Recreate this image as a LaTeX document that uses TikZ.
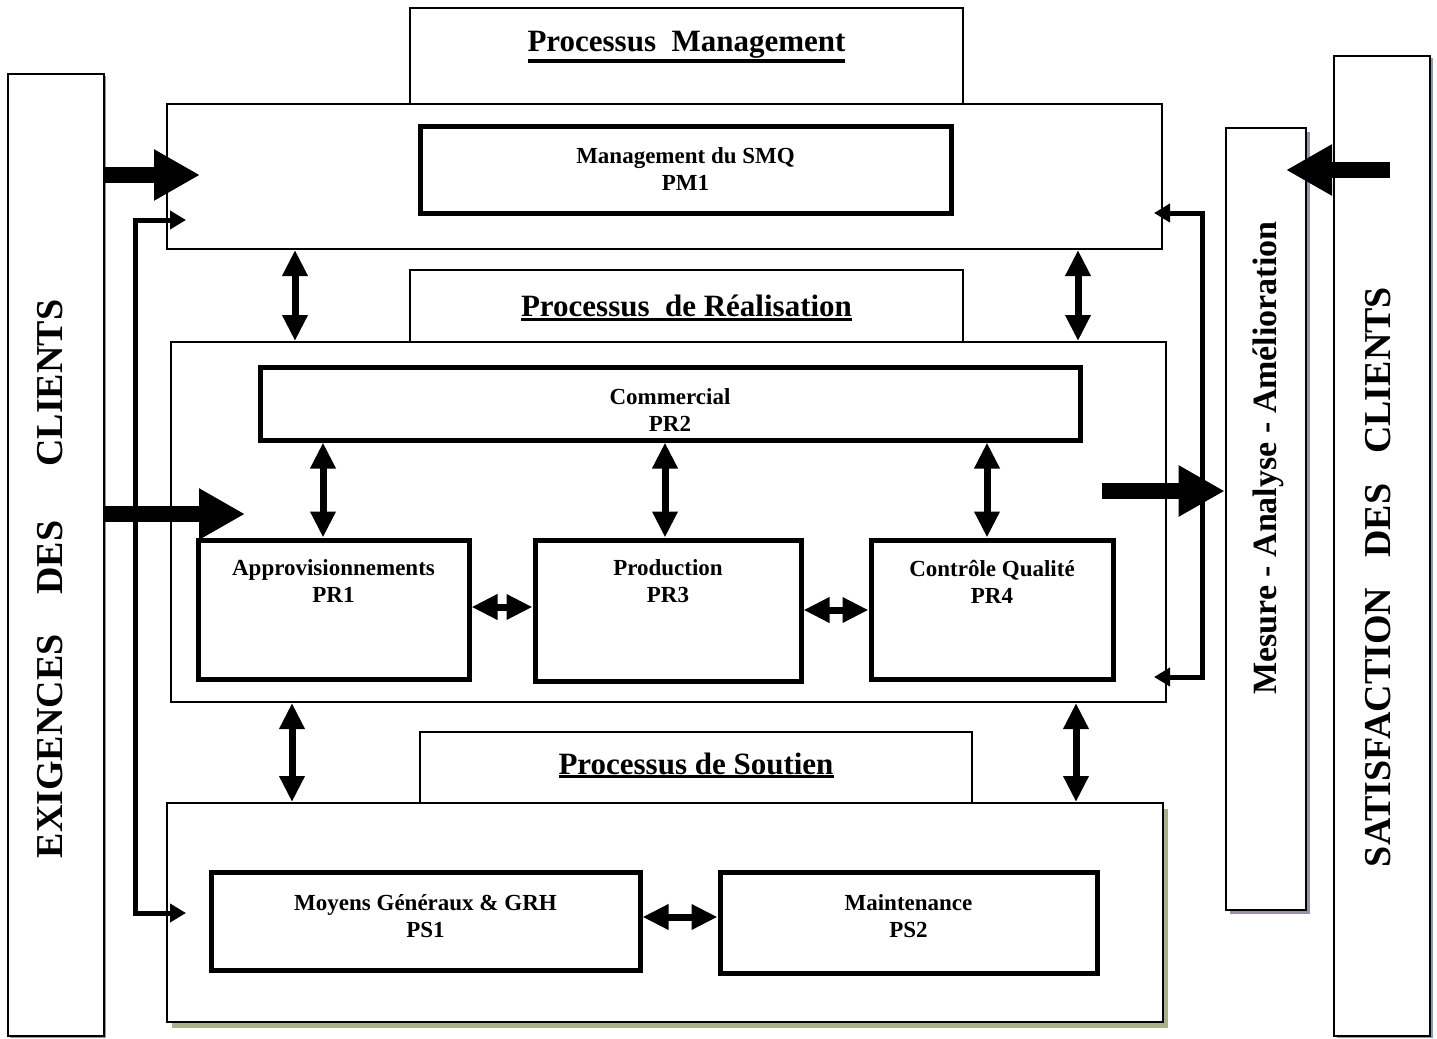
\documentclass[tikz,border=0pt]{standalone}
\usepackage{fontspec}
\setmainfont{Liberation Serif}
\usetikzlibrary{arrows.meta,shadows}
\definecolor{olivegray}{HTML}{A8B08E}
\definecolor{mauvegray}{HTML}{9A8FA3}
\definecolor{bluegray}{HTML}{8A9BB5}
\newcommand{\heavyul}[1]{\leavevmode\setbox0=\hbox{#1}\rlap{\copy0}%
  \raisebox{-\dp0}{\rule[-2pt]{\wd0}{1.6pt}}}

\begin{document}
\begin{tikzpicture}[x=0.5pt,y=-0.5pt]
	\tikzset{
	  box/.style = {draw, line width=1pt, fill=white, inner sep=0pt},
	  procbox/.style = {box, line width=2.5pt, align=center,
	                    font=\fontsize{11.5}{13.5}\selectfont\bfseries},
	  boxtext/.style = {anchor=north, inner sep=0pt, align=center,
	                    font=\fontsize{11.5}{13.5}\selectfont\bfseries},
	  title/.style = {font=\fontsize{15.5}{18}\selectfont\bfseries},
	  sidetext/.style = {rotate=90, inner sep=0pt,
	                     font=\fontsize{19}{22}\selectfont\bfseries},
	  bigarrow/.style = {line width=8pt, -{Triangle[width=24pt,length=23pt]}},
	  dblarrow/.style = {line width=3.5pt,
	                     {Triangle[width=12pt,length=13pt]}-{Triangle[width=12pt,length=13pt]}},
	  elbowarrow/.style = {line width=2.5pt,
	                       {Triangle[width=9pt,length=8pt]}-{Triangle[width=9pt,length=8pt]}}
	}
	\useasboundingbox (0,0) rectangle (1437,1039);

	% side columns
	\node[box, line width=1.3pt, minimum width=48pt, minimum height=481pt,
	      drop shadow={shadow xshift=1pt, shadow yshift=-1pt, fill=bluegray, opacity=1}]
	      (exig) at (56,555) {};
	\node[box, line width=1.3pt, minimum width=48pt, minimum height=490pt,
	      drop shadow={shadow xshift=1.5pt, shadow yshift=-1pt, fill=bluegray, opacity=1}]
	      (satis) at (1382,546) {};
	\node[box, line width=1.3pt, minimum width=40pt, minimum height=391pt,
	      drop shadow={shadow xshift=2pt, shadow yshift=-2pt, fill=mauvegray, opacity=1}]
	      (mesure) at (1266,519) {};
	\node[sidetext] (exiglabel) at ([xshift=-3pt,yshift=-12pt]exig.center)
	      {EXIGENCES\hspace{20pt}DES\hspace{27pt}CLIENTS};
	\node[sidetext] (satislabel) at ([xshift=-2pt,yshift=-15.5pt]satis.center)
	      {SATISFACTION\hspace{15pt}DES\hspace{15pt}CLIENTS};
	\node[sidetext, font=\fontsize{17}{20}\selectfont\bfseries] (mesurelabel)
	      at ([xshift=1pt,yshift=30.5pt]mesure.center)
	      {Mesure - Analyse - Amélioration};

	% processus management
	\node[box, minimum width=276.5pt, minimum height=48pt] (pmtitle) at (686.5,56) {};
	\node[box, minimum width=497.5pt, minimum height=72.5pt] (pm) at (664.5,176.5) {};
	\node[title] (pmlabel) at ([yshift=-20pt]pmtitle.north) {\heavyul{Processus\ \ Management}};
	\node[procbox, minimum width=265.5pt, minimum height=43.5pt] (smq) at (685.5,169.5)
	      {Management du SMQ\\PM1};

	% processus de realisation
	\node[box, minimum width=276.5pt, minimum height=36pt] (prtitle) at (686.5,306) {};
	\node[box, minimum width=497.5pt, minimum height=180pt] (pr) at (668.5,522) {};
	\node[title] (prlabel) at ([yshift=-1pt]prtitle.center) {\heavyul{Processus\ \ de Réalisation}};
	\node[procbox, minimum width=410pt, minimum height=36.5pt] (commercial) at (670,403.5) {};
	\node[boxtext] (commercialtext) at ([yshift=-12pt]commercial.north) {Commercial\\PR2};
	\node[procbox, minimum width=135.5pt, minimum height=69.5pt] (appro) at (333.5,609.5) {};
	\node[procbox, minimum width=133pt, minimum height=70.5pt] (production) at (668,610.5) {};
	\node[procbox, minimum width=121pt, minimum height=69.5pt] (controle) at (992,609.5) {};
	\node[boxtext] (approtext) at ([yshift=-11pt]appro.north) {Approvisionnements\\PR1};
	\node[boxtext] (productiontext) at ([yshift=-11pt]production.north) {Production\\PR3};
	\node[boxtext] (controletext) at ([yshift=-11pt]controle.north) {Contrôle Qualité\\PR4};

	% processus de soutien
	\node[box, minimum width=498pt, minimum height=109.5pt,
	      drop shadow={shadow xshift=2.5pt, shadow yshift=-3pt, fill=olivegray, opacity=1}]
	      (ps) at (665,912.5) {};
	\node[box, minimum width=276pt, minimum height=35.5pt] (pstitle) at (696,767.5) {};
	\node[title] (pslabel) at ([yshift=1pt]pstitle.center) {\heavyul{Processus de Soutien}};
	\node[procbox, minimum width=214.5pt, minimum height=49pt] (moyens) at (425.5,921) {};
	\node[procbox, minimum width=188.5pt, minimum height=50.5pt] (maint) at (908.5,922.5) {};
	\node[boxtext] (moyenstext) at ([yshift=-12.5pt]moyens.north) {Moyens Généraux \& GRH\\PS1};
	\node[boxtext] (mainttext) at ([yshift=-12.5pt]maint.north) {Maintenance\\PS2};

	% links between the levels
	\draw[dblarrow] (295,0 |- pm.south) -- (295,0 |- pr.north);
	\draw[dblarrow] (1078,0 |- pm.south) -- (1078,0 |- pr.north);
	\draw[dblarrow] (292,0 |- pr.south) -- (292,0 |- ps.north);
	\draw[dblarrow] (1076,0 |- pr.south) -- (1076,0 |- ps.north);
	\draw[dblarrow] (323,0 |- commercial.south) -- (323,0 |- appro.north);
	\draw[dblarrow] (665,0 |- commercial.south) -- (665,0 |- production.north);
	\draw[dblarrow] (987,0 |- commercial.south) -- (987,0 |- controle.north);
	\draw[dblarrow] (appro.east |- 0,607) -- (production.west |- 0,607);
	\draw[dblarrow] (production.east |- 0,610) -- (controle.west |- 0,610);
	\draw[dblarrow] (moyens.east |- 0,917) -- (maint.west |- 0,917);

	% feedback loops
	\coordinate (lk1) at (135,220);
	\coordinate (lk2) at (135,913);
	\coordinate (rk1) at (1202,213);
	\coordinate (rk2) at (1202,677);
	\draw[elbowarrow] ([xshift=10pt]pm.west |- lk1) -- (lk1) -- (lk2)
	      -- ([xshift=10pt]ps.west |- lk2);
	\draw[elbowarrow] ([xshift=-4.5pt]pm.east |- rk1) -- (rk1) -- (rk2)
	      -- ([xshift=-6.5pt]pr.east |- rk2);

	% inputs and outputs
	\coordinate (in1) at (200,175);
	\coordinate (in2) at (245,514);
	\coordinate (out1) at (1102,491);
	\coordinate (fb) at (1390,170);
	\coordinate (fbtip) at (1286,170);
	\draw[bigarrow] (exig.east |- in1) -- (in1);
	\draw[bigarrow] (exig.east |- in2) -- (in2);
	\draw[bigarrow] (out1) -- (mesure.west |- out1);
	\draw[bigarrow] (fb) -- (fbtip);
\end{tikzpicture}
\end{document}
